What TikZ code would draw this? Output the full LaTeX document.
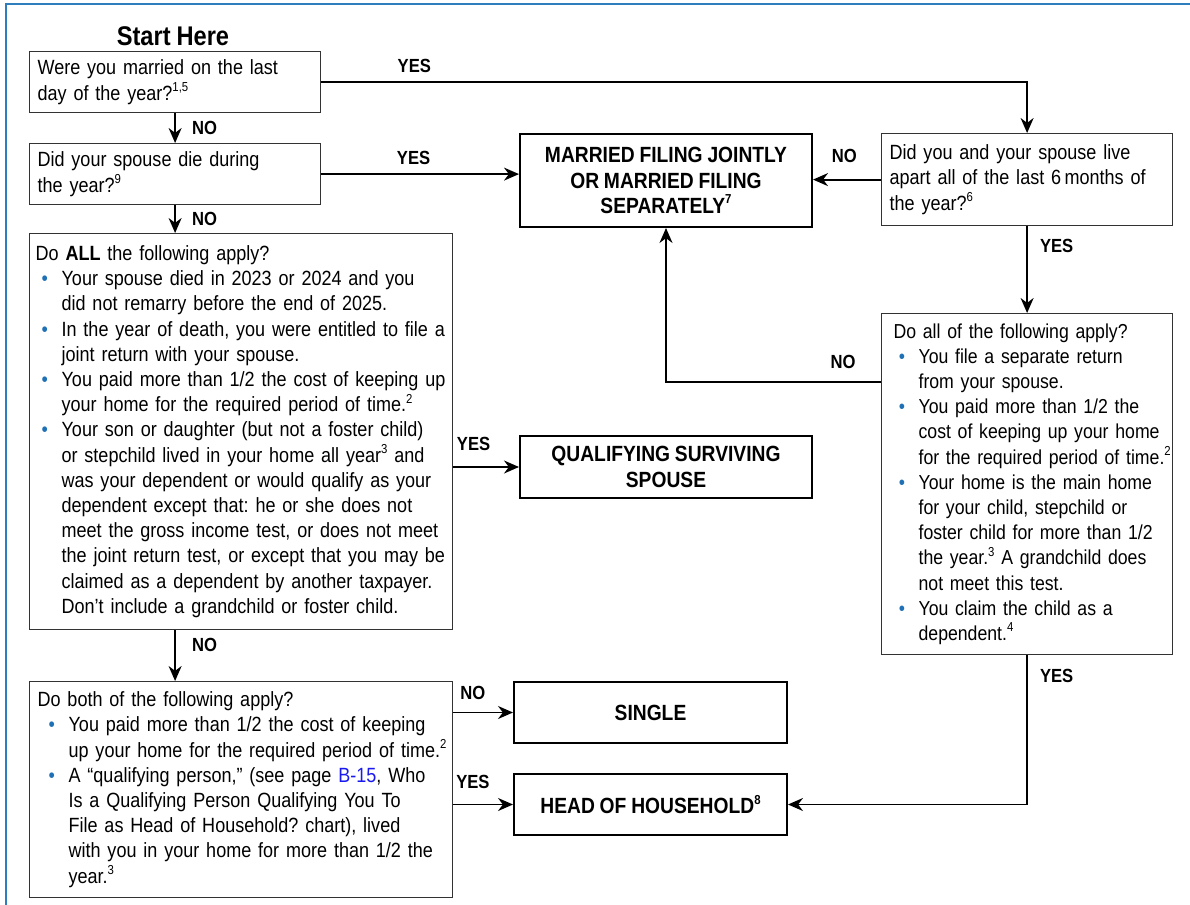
\documentclass[tikz,border=0pt]{standalone}
\usepackage{fontspec}
\setmainfont[FakeStretch=0.875,WordSpace=0.6,BoldFeatures={WordSpace=0.9}]{Liberation Sans}
\usepackage{xcolor}
\usetikzlibrary{arrows.meta}
\usetikzlibrary{calc}
\definecolor{frameblue}{HTML}{2E7EBD}
\definecolor{bulletblue}{HTML}{1F70B5}
\definecolor{linkblue}{HTML}{1A1AF0}
\tikzstyle{flowarr}=[-{Stealth[length=7.5pt,width=6.5pt]},line width=0.9pt]
\tikzstyle{question}=[draw=black!80,line width=0.6pt,anchor=north west,inner sep=0pt,
	font=\fontsize{10.3}{12.6}\selectfont,
	execute at begin node={\frenchspacing\parindent=0pt\leftskip=4pt\rightskip=-6pt plus 1fil\relax}]
\tikzstyle{outcome}=[draw,line width=1pt,anchor=north west,align=center,inner sep=0pt,
	font=\bfseries\fontsize{11}{12.6}\selectfont]
\tikzstyle{lbl}=[font=\bfseries\fontsize{9.5}{11}\selectfont,inner sep=0pt]
\newcommand\bitem[1][16pt]{\par\leftskip=#1\noindent\llap{\textcolor{bulletblue}{\textbullet}\hspace{6.8pt}}\ignorespaces}
\newcommand\sups[1]{\raisebox{0.8ex}{\fontsize{6.5}{6.5}\selectfont#1}}

\begin{document}
\begin{tikzpicture}[x=0.5pt,y=-0.5pt]
	\useasboundingbox (0,0) rectangle (1190,905);
	
	% FRAME
	\draw[frameblue,line width=1.2pt] (6,905) -- (6,4) -- (1190,4);
	
	% QUESTIONS
	\node[font=\bfseries\fontsize{13.5}{15}\selectfont] (start) at (173,36) {Start Here};
	\node[question,text width=145.5pt,minimum height=30.5pt] (married) at (29,51)
	{Were you married on the last\\day of the year?\sups{1,5}\par};
	\node[question,text width=145.5pt,minimum height=30.5pt] (died) at (29,143)
	{Did your spouse die during\\the year?\sups{9}\par};
	\node[question,text width=211.5pt,minimum height=198pt] (allq) at (29,233)
	{\leftskip=3pt Do \textbf{ALL} the following apply?
		\bitem Your spouse died in 2023 or 2024 and you\\did not remarry before the end of 2025.
		\bitem In the year of death, you were entitled to file a\\joint return with your spouse.
		\bitem You paid more than 1/2 the cost of keeping up\\your home for the required period of time.\sups{2}
		\bitem Your son or daughter (but not a foster child)\\or stepchild lived in your home all year\sups{3} and\\was your dependent or would qualify as your\\dependent except that: he or she does not\\meet the gross income test, or does not meet\\the joint return test, or except that you may be\\claimed as a dependent by another taxpayer.\\Don’t include a grandchild or foster child.\par};
	\node[question,text width=211.5pt,minimum height=108pt] (bothq) at (29,681)
	{Do both of the following apply?
		\bitem[19.5pt] You paid more than 1/2 the cost of keeping\\up your home for the required period of time.\sups{2}
		\bitem[19.5pt] A “qualifying person,” (see page \textcolor{linkblue}{B-15}, Who\\Is a Qualifying Person Qualifying You To\\File as Head of Household? chart), lived\\with you in your home for more than 1/2 the\\year.\sups{3}\par};
	\node[question,text width=145.5pt,minimum height=46pt] (apart) at (881,133)
	{Did you and your spouse live\\apart all of the last 6\,months of\\the year?\sups{6}\par};
	\node[question,text width=145.5pt,minimum height=170.5pt,font=\fontsize{10.1}{12.6}\selectfont] (sepq) at (881,313)
	{\leftskip=6pt Do all of the following apply?
		\bitem[18.5pt] You file a separate return\\from your spouse.
		\bitem[18.5pt] You paid more than 1/2 the\\cost of keeping up your home\\for the required period of time.\sups{2}
		\bitem[18.5pt] Your home is the main home\\for your child, stepchild or\\foster child for more than 1/2\\the year.\sups{3} A grandchild does\\not meet this test.
		\bitem[18.5pt] You claim the child as a\\dependent.\sups{4}\par};
	
	% OUTCOMES
	\node[outcome,minimum width=146pt,minimum height=46.5pt] (mfj) at (519,133)
	{MARRIED FILING JOINTLY\\OR MARRIED FILING\\SEPARATELY\sups{7}};
	\node[outcome,minimum width=146pt,minimum height=31pt] (qss) at (519,435)
	{QUALIFYING SURVIVING\\SPOUSE};
	\node[outcome,minimum width=136.5pt,minimum height=30.5pt] (single) at (513,681) {SINGLE};
	\node[outcome,minimum width=136.5pt,minimum height=30.5pt] (hoh) at (513,773)
	{HEAD OF HOUSEHOLD\sups{8}};
	
	% LINES
	\draw[flowarr] (married.south) -- (married.south |- died.north) node[lbl,midway,right=8pt] {NO};
	\draw[flowarr] (died.south) -- (died.south |- allq.north) node[lbl,midway,right=8pt] {NO};
	\draw[flowarr] (died.south |- allq.south) -- (died.south |- bothq.north) node[lbl,pos=0.3,right=8pt] {NO};
	\draw[flowarr] (married.east) -| (apart.north) node[lbl,pos=0.066,yshift=8.3pt] {YES};
	\draw[flowarr] (died.east) -- (died.east -| mfj.west) node[lbl,pos=0.467,yshift=8.3pt] {YES};
	\draw[flowarr] (apart.west) -- (apart.west -| mfj.east) node[lbl,pos=0.54,yshift=12pt] {NO};
	\draw[flowarr] (apart.south) -- (sepq.north) node[lbl,pos=0.23,right=6pt] {YES};
	\draw[flowarr] ($(sepq.north west)+(0,69)$) -| (mfj.south) node[lbl,pos=0.088,yshift=10pt] {NO};
	\draw[flowarr] (qss.west -| allq.east) -- (qss.west) node[lbl,pos=0.31,yshift=11.5pt] {YES};
	\draw[flowarr] (single.west -| bothq.east) -- (single.west) node[lbl,pos=0.33,yshift=10pt] {NO};
	\draw[flowarr] (hoh.west -| bothq.east) -- (hoh.west) node[lbl,pos=0.33,yshift=11.5pt] {YES};
	\draw[flowarr] (sepq.south) |- (hoh.east) node[lbl,pos=0.07,right=6pt] {YES};
	
\end{tikzpicture}
\end{document}
